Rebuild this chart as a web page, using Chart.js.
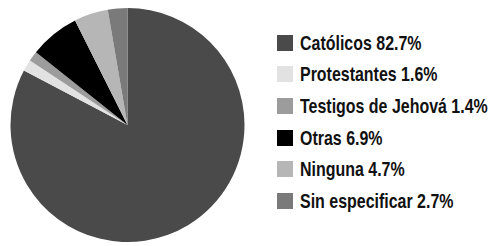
<!DOCTYPE html>
<html>
<head>
<meta charset="utf-8">
<script src="https://cdn.jsdelivr.net/npm/chart.js@4/dist/chart.umd.min.js"></script>
<style>
  html, body { margin: 0; padding: 0; background: #fff; }
  #wrap { position: relative; width: 492px; height: 246px; }
  #pieBox { position: absolute; left: 0; top: 0; width: 255px; height: 246px; }
  #legenda { position: absolute; left: 277px; top: 27px; margin: 0; padding: 0; list-style: none; }
  #legenda li { height: 31.6px; display: flex; align-items: center; white-space: nowrap; }
  #legenda .box { width: 16px; height: 16px; margin-right: 7px; flex: none; }
  #legenda .txt { font-family: "Liberation Sans", Arial, sans-serif; font-weight: bold; font-size: 21px;
                  color: #111; transform: scaleX(0.76); transform-origin: left center; display: inline-block; }
</style>
</head>
<body>
<div id="wrap">
  <div id="pieBox"><canvas id="pieChart"></canvas></div>
  <ul id="legenda"></ul>
</div>
<script>
const categorias = ['Católicos', 'Protestantes', 'Testigos de Jehová', 'Otras', 'Ninguna', 'Sin especificar'];
const porcentajes = [82.7, 1.6, 1.4, 6.9, 4.7, 2.7];
const colores = ['#4a4a4a', '#e2e2e2', '#9c9c9c', '#000000', '#b6b6b6', '#7a7a7a'];

// legenda html costruita dagli item della legenda del chart
const htmlLegend = {
    id: 'htmlLegend',
    afterUpdate(chart) {
        const ul = document.getElementById('legenda');
        ul.innerHTML = '';
        const items = chart.options.plugins.legend.labels.generateLabels(chart);
        items.forEach(function (item, i) {
            const li = document.createElement('li');
            const box = document.createElement('span');
            box.className = 'box';
            box.style.background = item.fillStyle;
            const txt = document.createElement('span');
            txt.className = 'txt';
            txt.textContent = categorias[i] + ' ' + porcentajes[i].toFixed(1) + '%';
            li.appendChild(box);
            li.appendChild(txt);
            ul.appendChild(li);
        });
    }
};

function createChart() {
    const ctx = document.getElementById('pieChart').getContext('2d');
    new Chart(ctx, {
        type: 'pie',
        data: {
            labels: categorias,
            datasets: [{
                data: porcentajes,
                backgroundColor: colores,
                borderWidth: 0
            }]
        },
        options: {
            responsive: true,
            maintainAspectRatio: false,
            animation: false,
            layout: {
                padding: { top: 8, bottom: 4, left: 0, right: 0 }
            },
            plugins: {
                tooltip: { enabled: false },
                legend: { display: false }
            }
        },
        plugins: [htmlLegend]
    });
}

createChart();
</script>
</body>
</html>
